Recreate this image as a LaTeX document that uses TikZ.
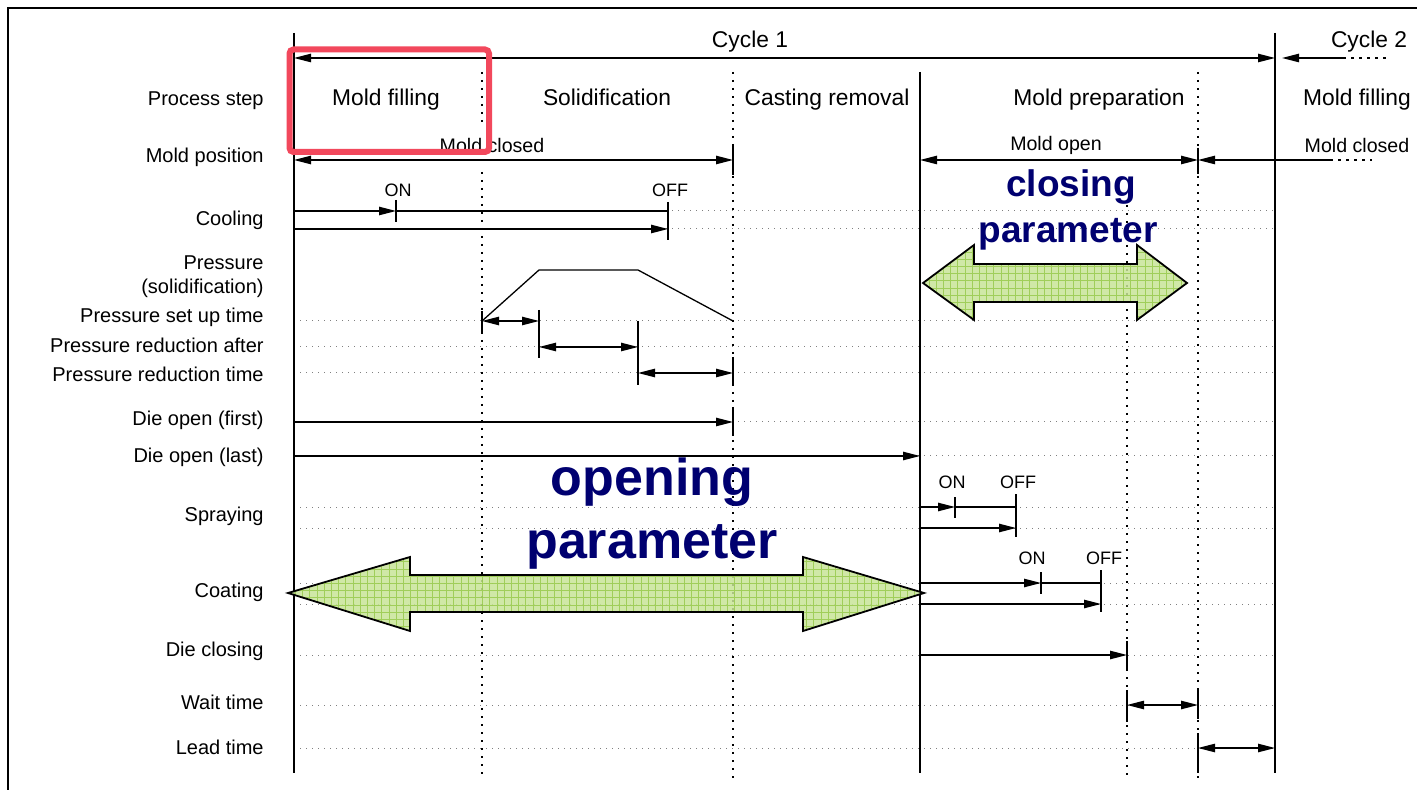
\documentclass[tikz,border=0pt]{standalone}
\usepackage{fontspec}
\setmainfont{Liberation Sans}
\usetikzlibrary{positioning, arrows.meta}

\definecolor{paramblue}{RGB}{0,0,112}
\definecolor{markred}{RGB}{242,72,92}
\definecolor{padgreen}{RGB}{200,228,152}
\definecolor{padgrid}{RGB}{148,200,72}

\begin{document}
\begin{tikzpicture}
    [
        x=0.5pt, y=-0.5pt,
        lbl/.style={anchor=east, inner sep=0pt, font=\fontsize{10}{12}\selectfont},
        phase/.style={anchor=base, inner sep=0pt, font=\fontsize{11.4}{13.5}\selectfont},
        note/.style={inner sep=0pt, font=\fontsize{9.8}{11}\selectfont},
        onoff/.style={inner sep=0pt, font=\fontsize{9}{11}\selectfont},
        bigtext/.style={inner sep=0pt, anchor=base, text=paramblue, font=\bfseries\fontsize{26}{30}\selectfont},
        midtext/.style={inner sep=0pt, anchor=base, text=paramblue, font=\bfseries\fontsize{18.5}{22}\selectfont},
        frameline/.style={line width=1pt},
        mainline/.style={line width=1pt},
        phaseline/.style={line width=1pt, dash pattern=on 1pt off 3pt},
        guide/.style={gray, line width=0.5pt, dash pattern=on 0.6pt off 2.4pt},
        trail/.style={line width=0.65pt, dash pattern=on 1.5pt off 2.5pt},
        stopbar/.style={line width=1pt},
        plain/.style={line width=0.65pt},
        sig/.style={line width=0.65pt, -{Triangle[length=8.5pt, width=4.2pt]}},
        twoway/.style={line width=0.65pt, {Triangle[length=8.5pt, width=4.2pt]}-{Triangle[length=8.5pt, width=4.2pt]}},
        fatarrow/.style={draw=black, line width=0.9pt}
    ]
        \useasboundingbox (0,0) rectangle (1417,790);
        % =========================================================================
        % GRID OF COLUMNS AND ROWS
        % =========================================================================
        % --- Columns ---
        \coordinate (c0) at (294,0);
        \coordinate (cCoolOn) at (396,0);
        \coordinate (cSol) at (482,0);
        \coordinate (cRise) at (539,0);
        \coordinate (cFall) at (638,0);
        \coordinate (cCoolOff) at (668,0);
        \coordinate (cRem) at (733,0);
        \coordinate (cPrep) at (920,0);
        \coordinate (cSprOn) at (955,0);
        \coordinate (cSprOff) at (1016,0);
        \coordinate (cCoatOn) at (1041,0);
        \coordinate (cCoatOff) at (1101,0);
        \coordinate (cClose) at (1127,0);
        \coordinate (cWait) at (1198,0);
        \coordinate (cEnd) at (1275,0);
        % --- Rows ---
        \coordinate (rHigh) at (0,33);
        \coordinate (rCyc) at (0,58);
        \coordinate (rTop) at (0,72);
        \coordinate (rGapA) at (0,128);
        \coordinate (rPos) at (0,160);
        \coordinate (rGapB) at (0,172);
        \coordinate (rMid) at (0,205);
        \coordinate (rCoolA) at (0,211);
        \coordinate (rCoolB) at (0,229);
        \coordinate (rPeak) at (0,270);
        \coordinate (rSet) at (0,321);
        \coordinate (rRed) at (0,347);
        \coordinate (rRedT) at (0,373);
        \coordinate (rFirst) at (0,422);
        \coordinate (rLast) at (0,456);
        \coordinate (rSprA) at (0,507);
        \coordinate (rSprB) at (0,528);
        \coordinate (rCoatA) at (0,583);
        \coordinate (rCoatB) at (0,604);
        \coordinate (rClose) at (0,655);
        \coordinate (rWait) at (0,705);
        \coordinate (rLead) at (0,748);
        \coordinate (rBot) at (0,773);
        \coordinate (rEnd) at (0,778);
        % --- Cycle 2 / mold closed tails ---
        \coordinate (cyc2Tip) at (1282,58);
        \coordinate (cyc2Mid) at (1343,58);
        \coordinate (cyc2End) at (1390,58);
        \coordinate (pos2Mid) at (1330,160);
        \coordinate (pos2End) at (1372,160);

        % =========================================================================
        % NODES
        % =========================================================================
        % --- Row labels ---
        \node [lbl] (lStep) at (264,101) {Process step};
        \node [lbl] (lPos) at (264,157) {Mold position};
        \node [lbl] (lCool) at (264,220) {Cooling};
        \node [lbl, align=right] (lPress) at (264,277) {Pressure\\(solidification)};
        \node [lbl] (lSet) at (264,317) {Pressure set up time};
        \node [lbl] (lRed) at (264,345) {Pressure reduction after};
        \node [lbl] (lRedT) at (264,374) {Pressure reduction time};
        \node [lbl] (lFirst) at (264,420) {Die open (first)};
        \node [lbl] (lLast) at (264,457) {Die open (last)};
        \node [lbl] (lSpray) at (264,516) {Spraying};
        \node [lbl] (lCoat) at (264,592) {Coating};
        \node [lbl] (lClose) at (264,651) {Die closing};
        \node [lbl] (lWait) at (264,702) {Wait time};
        \node [lbl] (lLead) at (264,747) {Lead time};
        % --- Cycles and process steps ---
        \node [phase] (cyc1) at (750,48) {Cycle 1};
        \node [phase] (cyc2) at (1369,48) {Cycle 2};
        \node [phase] (pFill) at (386,106) {Mold filling};
        \node [phase] (pSol) at (607,106) {Solidification};
        \node [phase] (pRem) at (827,106) {Casting removal};
        \node [phase] (pPrep) at (1099,106) {Mold preparation};
        \node [phase] (pFill2) at (1357,106) {Mold filling};
        % --- Mold position notes ---
        \node [note] (nClosed) at (492,145) {Mold closed};
        \node [note] (nOpen) at (1056,145) {Mold open};
        \node [note] (nClosed2) at (1357,145) {Mold closed};
        % --- ON / OFF ---
        \node [onoff] (onCool) at (398,190) {ON};
        \node [onoff] (offCool) at (670,190) {OFF};
        \node [onoff] (onSpr) at (952,482) {ON};
        \node [onoff] (offSpr) at (1018,482) {OFF};
        \node [onoff] (onCoat) at (1032,558) {ON};
        \node [onoff] (offCoat) at (1104,558) {OFF};

        % =========================================================================
        % PATHS
        % =========================================================================
        % --- Frame ---
        \draw [frameline] (8,790) -- (8,8) -- (1417,8);
        % --- Dotted guides ---
        \draw [guide]
            (c0 |- rCoolA) -- (cEnd |- rCoolA)
            (c0 |- rCoolB) -- (cEnd |- rCoolB)
            (c0 |- rSet) -- (cEnd |- rSet)
            (c0 |- rRed) -- (cEnd |- rRed)
            (c0 |- rRedT) -- (cEnd |- rRedT)
            (c0 |- rFirst) -- (cEnd |- rFirst)
            (c0 |- rLast) -- (cEnd |- rLast)
            (c0 |- rSprA) -- (cEnd |- rSprA)
            (c0 |- rSprB) -- (cEnd |- rSprB)
            (c0 |- rCoatA) -- (cEnd |- rCoatA)
            (c0 |- rCoatB) -- (cEnd |- rCoatB)
            (c0 |- rClose) -- (cEnd |- rClose)
            (c0 |- rWait) -- (cEnd |- rWait)
            (c0 |- rLead) -- (cEnd |- rLead);
        % --- VERTICAL ---
        \draw [mainline] (c0 |- rHigh) -- (c0 |- rBot);
        \draw [mainline] (cPrep |- rTop) -- (cPrep |- rBot);
        \draw [mainline] (cEnd |- rHigh) -- (cEnd |- rBot);
        \draw [phaseline] (cSol |- rTop) -- (cSol |- rGapA) (cSol |- rGapB) -- (cSol |- rEnd);
        \draw [phaseline] (cRem |- rTop) -- (cRem |- rEnd);
        \draw [phaseline] (cClose |- rMid) -- (cClose |- rEnd);
        \draw [phaseline] (cWait |- rTop) -- (cWait |- rEnd);
        % --- Cycle ---
        \draw [twoway] (c0 |- rCyc) -- (cEnd |- rCyc);
        \draw [sig] (cyc2Mid) -- (cyc2Tip);
        \draw [trail] (cyc2Mid) -- (cyc2End);
        % --- Mold position ---
        \draw [twoway] (c0 |- rPos) -- (cRem |- rPos);
        \draw [twoway] (cPrep |- rPos) -- (cWait |- rPos);
        \draw [sig] (pos2Mid) -- (cWait |- rPos);
        \draw [trail] (pos2Mid) -- (pos2End);
        \draw [stopbar] (cRem |- rPos) ++(0,-15) -- ++(0,30);
        \draw [stopbar] (cWait |- rPos) ++(0,-12) -- ++(0,26);
        % --- Cooling ---
        \draw [sig] (c0 |- rCoolA) -- (cCoolOn |- rCoolA);
        \draw [plain] (cCoolOn |- rCoolA) -- (cCoolOff |- rCoolA);
        \draw [sig] (c0 |- rCoolB) -- (cCoolOff |- rCoolB);
        \draw [stopbar] (cCoolOn |- rCoolA) ++(0,-11) -- ++(0,22);
        \draw [stopbar] (cCoolOff |- rCoolA) ++(0,-9) -- ++(0,38);
        % --- Pressure ---
        \draw [plain] (cSol |- rSet) -- (cRise |- rPeak) -- (cFall |- rPeak) -- (cRem |- rSet);
        \draw [twoway] (cSol |- rSet) -- (cRise |- rSet);
        \draw [twoway] (cRise |- rRed) -- (cFall |- rRed);
        \draw [twoway] (cFall |- rRedT) -- (cRem |- rRedT);
        \draw [stopbar] (cSol |- rSet) ++(0,-10) -- ++(0,22);
        \draw [stopbar] (cRise |- rSet) ++(0,-11) -- ++(0,48);
        \draw [stopbar] (cFall |- rRed) ++(0,-26) -- ++(0,64);
        \draw [stopbar] (cRem |- rRedT) ++(0,-16) -- ++(0,29);
        % --- Die open ---
        \draw [sig] (c0 |- rFirst) -- (cRem |- rFirst);
        \draw [stopbar] (cRem |- rFirst) ++(0,-15) -- ++(0,29);
        \draw [sig] (c0 |- rLast) -- (cPrep |- rLast);
        % --- Spraying ---
        \draw [sig] (cPrep |- rSprA) -- (cSprOn |- rSprA);
        \draw [plain] (cSprOn |- rSprA) -- (cSprOff |- rSprA);
        \draw [sig] (cPrep |- rSprB) -- (cSprOff |- rSprB);
        \draw [stopbar] (cSprOn |- rSprA) ++(0,-10) -- ++(0,21);
        \draw [stopbar] (cSprOff |- rSprA) ++(0,-13) -- ++(0,43);
        % --- Coating ---
        \draw [sig] (cPrep |- rCoatA) -- (cCoatOn |- rCoatA);
        \draw [plain] (cCoatOn |- rCoatA) -- (cCoatOff |- rCoatA);
        \draw [sig] (cPrep |- rCoatB) -- (cCoatOff |- rCoatB);
        \draw [stopbar] (cCoatOn |- rCoatA) ++(0,-11) -- ++(0,22);
        \draw [stopbar] (cCoatOff |- rCoatA) ++(0,-13) -- ++(0,42);
        % --- Die closing, wait, lead ---
        \draw [sig] (cPrep |- rClose) -- (cClose |- rClose);
        \draw [stopbar] (cClose |- rClose) ++(0,-14) -- ++(0,30);
        \draw [twoway] (cClose |- rWait) -- (cWait |- rWait);
        \draw [stopbar] (cClose |- rWait) ++(0,-15) -- ++(0,32);
        \draw [stopbar] (cWait |- rWait) ++(0,-15) -- ++(0,29);
        \draw [twoway] (cWait |- rLead) -- (cEnd |- rLead);
        \draw [stopbar] (cWait |- rLead) ++(0,-15) -- ++(0,40);

        % =========================================================================
        % OVERLAY
        % =========================================================================
        % --- Highlight box ---
        \draw [markred, line width=3pt, rounded corners=2pt] (289.5,49.5) rectangle (489,152);
        % --- Opening parameter ---
        \begin{scope}[fill opacity=0.85, draw opacity=0.8]
            \clip (288,593) -- (410,557) -- (410,575) -- (803,575) -- (803,557) -- (924,593)
                -- (803,631) -- (803,612) -- (410,612) -- (410,631) -- cycle;
            \fill [padgreen] (280,550) rectangle (930,640);
            \draw [padgrid, line width=0.3pt, step=3.6pt] (280,550) grid (930,640);
        \end{scope}
        \draw [fatarrow] (288,593) -- (410,557) -- (410,575) -- (803,575) -- (803,557) -- (924,593)
            -- (803,631) -- (803,612) -- (410,612) -- (410,631) -- cycle;
        % --- Closing parameter ---
        \begin{scope}[fill opacity=0.85, draw opacity=0.8]
            \clip (923,283) -- (974,245) -- (974,264) -- (1137,264) -- (1137,245) -- (1187,283)
                -- (1137,320) -- (1137,302) -- (974,302) -- (974,320) -- cycle;
            \fill [padgreen] (915,240) rectangle (1195,325);
            \draw [padgrid, line width=0.3pt, step=3.6pt] (915,240) grid (1195,325);
        \end{scope}
        \draw [fatarrow] (923,283) -- (974,245) -- (974,264) -- (1137,264) -- (1137,245) -- (1187,283)
            -- (1137,320) -- (1137,302) -- (974,302) -- (974,320) -- cycle;
        % --- Big labels ---
        \node [bigtext] (tOpen) at (652,495) {opening};
        \node [bigtext] (tOpenPar) at (652,558) {parameter};
        \node [midtext] (tClose) at (1071,197) {closing};
        \node [midtext] (tClosePar) at (1068,243) {parameter};

    \end{tikzpicture}
\end{document}
